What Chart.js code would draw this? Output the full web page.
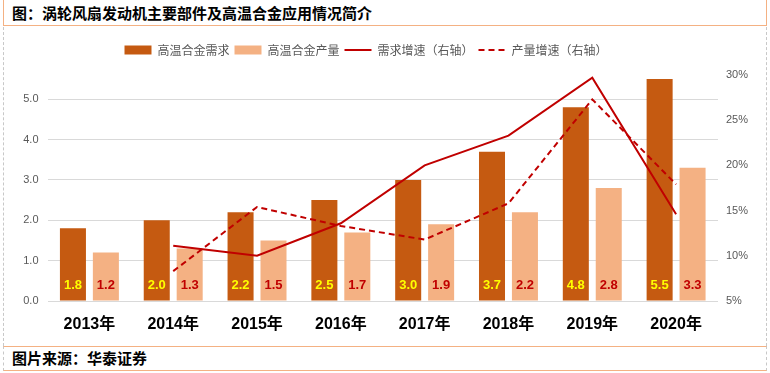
<!DOCTYPE html>
<html>
<head>
<meta charset="utf-8">
<script src="https://cdn.jsdelivr.net/npm/chart.js@4.4.1/dist/chart.umd.min.js"></script>
<style>
  body { margin: 0; background: #fff; }
  #wrap { position: relative; width: 770px; height: 373px; overflow: hidden; }
  #title {
    position: absolute; left: 3px; top: 0; width: 764px; height: 26px; box-sizing: border-box;
    border-left: 1px solid #F4B183; border-right: 1px solid #F4B183; border-bottom: 1px solid #F4B183;
    font: bold 15px "Noto Sans CJK SC", sans-serif; line-height: 26px; padding-left: 8px;
  }
  #mid {
    position: absolute; left: 3px; top: 27px; width: 764px; height: 319px; box-sizing: border-box;
    border-left: 1px dashed #C8C8C8; border-right: 1px dashed #C8C8C8;
  }
  #foot {
    position: absolute; left: 3px; top: 346px; width: 764px; height: 25px; box-sizing: border-box;
    border-top: 1px solid #F4B183; border-bottom: 1px solid #F4B183;
    border-left: 1px dashed #C8C8C8; border-right: 1px dashed #C8C8C8;
    font: bold 15px "Noto Sans CJK SC", sans-serif; line-height: 22px; padding-left: 8px;
  }
  #chartBox { position: absolute; left: 0; top: 28px; width: 770px; height: 318px; }
</style>
</head>
<body>
<div id="wrap">
  <div id="title">图：涡轮风扇发动机主要部件及高温合金应用情况简介</div>
  <div id="mid"></div>
  <div id="chartBox"><canvas id="chart"></canvas></div>
  <div id="foot">图片来源：华泰证券</div>
</div>
<script>
// categories and values
const years = ['2013年', '2014年', '2015年', '2016年', '2017年', '2018年', '2019年', '2020年'];
const demand = [1.8, 2.0, 2.2, 2.5, 3.0, 3.7, 4.8, 5.5];
const output = [1.2, 1.3, 1.5, 1.7, 1.9, 2.2, 2.8, 3.3];
const demandGrowth = [null, 11.1, 10.0, 13.6, 20.0, 23.3, 29.7, 14.6]; // %
const outputGrowth = [null, 8.3, 15.4, 13.3, 11.8, 15.8, 27.3, 17.9];  // %
const leftMax = 5.6;
const rightMin = 5, rightMax = 30;

// numbers inside the bars
const barLabels = {
  id: 'barLabels',
  afterDatasetsDraw(chart) {
    const ctx = chart.ctx;
    const base = chart.scales.y.getPixelForValue(0);
    [[0, '#FFFF00'], [1, '#C00000']].forEach(([i, color]) => {
      chart.getDatasetMeta(i).data.forEach((bar, j) => {
        ctx.save();
        ctx.font = 'bold 13px "Liberation Sans", sans-serif';
        ctx.fillStyle = color;
        ctx.textAlign = 'center';
        ctx.textBaseline = 'middle';
        ctx.fillText(chart.data.datasets[i].data[j].toFixed(1), bar.x, base - 16);
        ctx.restore();
      });
    });
  }
};

// extra room under the legend, and nudge it a bit left like the original
const legendTweak = {
  id: 'legendTweak',
  beforeLayout(chart) {
    const lg = chart.legend;
    if (lg && !lg._gapPatched) {
      const fit = lg.fit;
      lg.fit = function () { fit.call(this); this.height += 9; };
      lg._gapPatched = true;
    }
  },
  afterLayout(chart) {
    const lg = chart.legend;
    if (lg) { lg.left -= 19; lg.right -= 19; }
  }
};

const ctx = document.getElementById('chart').getContext('2d');
new Chart(ctx, {
  data: {
    labels: years,
    datasets: [
      { type: 'bar', label: '高温合金需求', data: demand, backgroundColor: '#C55A11', yAxisID: 'y', order: 1, pointStyle: 'rect', borderWidth: 0 },
      { type: 'bar', label: '高温合金产量', data: output, backgroundColor: '#F4B183', yAxisID: 'y', order: 1, pointStyle: 'rect', borderWidth: 0 },
      { type: 'line', label: '需求增速（右轴）', data: demandGrowth, borderColor: '#C00000', backgroundColor: '#C00000', borderWidth: 2, pointRadius: 0, yAxisID: 'y1', order: 0, pointStyle: 'line', tension: 0 },
      { type: 'line', label: '产量增速（右轴）', data: outputGrowth, borderColor: '#C00000', backgroundColor: '#C00000', borderWidth: 2, borderDash: [6, 4], pointRadius: 0, yAxisID: 'y1', order: 0, pointStyle: 'line', tension: 0 }
    ]
  },
  options: {
    responsive: true,
    maintainAspectRatio: false,
    animation: false,
    layout: { padding: { left: 0, right: 0, top: 11, bottom: 0 } },
    datasets: { bar: { categoryPercentage: 0.786, barPercentage: 0.79 } },
    plugins: {
      tooltip: { enabled: false },
      legend: {
        position: 'top',
        labels: {
          usePointStyle: true,
          pointStyleWidth: 27,
          boxHeight: 9,
          padding: 5,
          color: '#595959',
          font: { size: 12, family: '"Noto Sans CJK SC", sans-serif' },
          generateLabels: chart => Chart.defaults.plugins.legend.labels.generateLabels(chart).map(item => {
            item.lineDash = chart.data.datasets[item.datasetIndex].borderDash || [];
            return item;
          }),
          sort: (a, b) => a.datasetIndex - b.datasetIndex
        }
      }
    },
    scales: {
      x: {
        grid: { display: false, drawTicks: false },
        border: { display: false },
        ticks: { color: '#000', padding: 14, font: { size: 16, weight: 'bold', family: '"Liberation Sans", "Noto Sans CJK SC", sans-serif' } },
        afterFit: s => { s.height = 45; }
      },
      y: {
        position: 'left',
        min: 0, max: leftMax,
        grid: { color: '#D9D9D9', drawTicks: false },
        border: { display: false },
        ticks: { stepSize: 1, padding: 9, color: '#595959', font: { size: 11, family: '"Liberation Sans", sans-serif' }, callback: v => v.toFixed(1) },
        afterBuildTicks: s => { s.ticks = s.ticks.filter(t => t.value <= 5); },
        afterFit: s => { s.width = 47.5; }
      },
      y1: {
        position: 'right',
        min: rightMin, max: rightMax,
        grid: { display: false, drawTicks: false },
        border: { display: false },
        ticks: { stepSize: 5, padding: 8, color: '#595959', font: { size: 11, family: '"Liberation Sans", sans-serif' }, callback: v => v + '%' },
        afterFit: s => { s.width = 52; }
      }
    }
  },
  plugins: [barLabels, legendTweak]
});
</script>
</body>
</html>
